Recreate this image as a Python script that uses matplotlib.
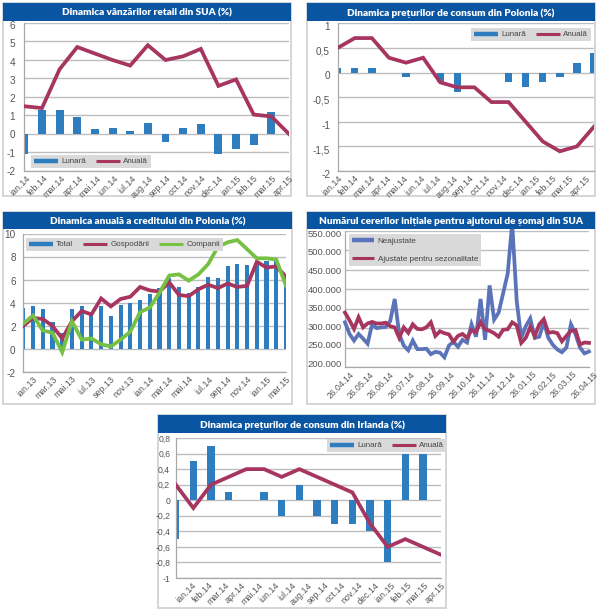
# -*- coding: utf-8 -*-
import numpy as np
import matplotlib
matplotlib.use("Agg")
import matplotlib.pyplot as plt
from matplotlib.lines import Line2D
from matplotlib.patches import Rectangle
from matplotlib.transforms import ScaledTranslation

plt.rcParams['font.family'] = ['Liberation Sans', 'DejaVu Sans']

W, H = 600, 613
BLUE = '#2e7ebf'
RED = '#a6355f'
GREEN = '#76c043'
SLATE = '#5b74b9'
BAND = '#0a55a2'
TXT = '#555555'

# retail SUA
luni14 = ['ian.14', 'feb.14', 'mar.14', 'apr.14', 'mai.14', 'iun.14', 'iul.14', 'aug.14',
          'sep.14', 'oct.14', 'nov.14', 'dec.14', 'ian.15', 'feb.15', 'mar.15', 'apr.15']
retail_lunar = [-1.1, 1.3, 1.3, 0.9, 0.25, 0.3, 0.15, 0.6, -0.45, 0.35, 0.55, -1.1, -0.8, -0.6, 1.2, 0.0]
retail_anual = [1.5, 1.4, 3.5, 4.7, 4.35, 4.0, 3.7, 4.8, 4.0, 4.2, 4.6, 2.6, 2.95, 1.05, 0.95, 0.0]

# preturi Polonia
pl_lunar = [0.1, 0.1, 0.1, 0, -0.1, 0, -0.2, -0.4, 0, 0, -0.2, -0.3, -0.2, -0.1, 0.2, 0.4]
pl_anual = [0.5, 0.7, 0.7, 0.3, 0.2, 0.3, -0.2, -0.3, -0.3, -0.6, -0.6, -1.0, -1.4, -1.6, -1.5, -1.1]

# credit Polonia
luni13 = ['ian.13', 'mar.13', 'mai.13', 'iul.13', 'sep.13', 'nov.13', 'ian.14',
          'mar.14', 'mai.14', 'iul.14', 'sep.14', 'nov.14', 'ian.15', 'mar.15']
credit_total = [3.6, 3.7, 3.5, 2.3, 1.4, 3.5, 3.7, 3.2, 3.7, 2.9, 3.8, 4.0, 4.25, 4.75,
                5.3, 6.2, 5.4, 4.9, 5.4, 6.3, 6.2, 7.2, 7.4, 7.3, 7.6, 7.7, 7.7, 6.4]
credit_gosp = [2.0, 2.7, 2.6, 2.0, 0.9, 2.4, 3.3, 3.0, 4.4, 3.7, 4.35, 4.55, 5.4, 5.1,
               5.0, 5.8, 4.7, 4.6, 5.2, 5.6, 5.3, 5.7, 5.4, 5.5, 7.6, 7.1, 7.2, 6.3]
credit_comp = [2.2, 2.9, 1.6, 1.4, -0.3, 2.4, 0.8, 0.9, 0.4, 0.2, 0.8, 1.5, 3.2, 3.6,
               4.9, 6.4, 6.5, 5.95, 6.5, 7.4, 8.9, 9.3, 9.5, 8.7, 7.9, 7.9, 7.8, 5.5]

# somaj SUA (mii)
date_somaj = ['26.04.14', '26.05.14', '26.06.14', '26.07.14', '26.08.14', '26.09.14', '26.10.14',
              '26.11.14', '26.12.14', '26.01.15', '26.02.15', '26.03.15', '26.04.15']
neajustate = [315, 285, 268, 285, 273, 260, 310, 300, 302, 303, 318, 375, 285, 255, 243, 268, 246,
              246, 247, 233, 239, 237, 225, 255, 265, 252, 270, 263, 310, 278, 375, 270, 410, 322,
              340, 390, 440, 570, 370, 275, 305, 325, 275, 278, 315, 275, 257, 245, 238, 250, 310,
              285, 250, 235, 240]
ajustate = [340, 320, 298, 328, 302, 312, 316, 312, 312, 314, 305, 302, 275, 302, 288, 310, 298,
            297, 302, 315, 280, 292, 287, 284, 265, 280, 285, 275, 295, 290, 315, 297, 293, 287,
            278, 296, 297, 315, 307, 262, 275, 303, 280, 310, 323, 288, 290, 287, 266, 280, 293,
            295, 258, 263, 262]

# preturi Irlanda
ie_lunar = [-0.5, 0.5, 0.7, 0.1, 0, 0.1, -0.2, 0.2, -0.2, -0.3, -0.3, -0.4, -0.8, 0.6, 0.6, 0]
ie_anual = [0.2, -0.1, 0.2, 0.3, 0.4, 0.4, 0.3, 0.4, 0.3, 0.2, 0.1, -0.3, -0.6, -0.5, -0.6, -0.7]

fig = plt.figure(figsize=(W / 100, H / 100), dpi=100, facecolor='white')


def panel(frame, band_bottom, title, box, title_size=7.2):
    # frame = (left, top, right, bottom), all in pixels of the picture
    l, t, r, b = frame
    fig.add_artist(Rectangle((l / W, 1 - b / H), (r - l) / W, (b - t) / H, transform=fig.transFigure,
                             fc='white', ec='#c9d0d6', lw=1.2, zorder=-2))
    fig.add_artist(Rectangle((l / W, 1 - band_bottom / H), (r - l) / W, (band_bottom - t) / H,
                             transform=fig.transFigure, fc=BAND, ec='none', zorder=-1))
    fig.text((l + r) / 2 / W, 1 - (t + band_bottom) / 2 / H, title, color='white', fontsize=title_size,
             fontweight='heavy', ha='center', va='center_baseline', family=['Lato', 'Liberation Sans'])
    x0, y0, x1, y1 = box
    ax = fig.add_axes([x0 / W, 1 - y1 / H, (x1 - x0) / W, (y1 - y0) / H])
    ax.patch.set_alpha(0)
    for s in ['top', 'right']:
        ax.spines[s].set_visible(False)
    for s in ['left', 'bottom']:
        ax.spines[s].set_color('#a8a8a8')
        ax.spines[s].set_linewidth(0.9)
    ax.set_axisbelow(True)
    ax.grid(axis='y', color='#bdbdbd', lw=1.0)
    return ax


def ticks(ax, yvals, ylabels, xpos, xlabels, ypad, dy=(0, 0), dx=0, ysize=7.2, xsize=6.4):
    ax.set_yticks(yvals, ylabels)
    ax.set_xticks(xpos, xlabels)
    ax.tick_params(axis='y', length=0, pad=ypad, labelsize=ysize, labelcolor=TXT)
    ax.tick_params(axis='x', length=0, pad=2, labelsize=xsize, labelcolor=TXT)
    for lab in ax.get_xticklabels():
        lab.set_rotation(45)
        lab.set_ha('right')
        lab.set_va('top')
        lab.set_rotation_mode('anchor')
        if dx:
            lab.set_transform(lab.get_transform() + ScaledTranslation(dx / 100, 0, fig.dpi_scale_trans))
    # the y labels are not quite level with the grid in the original
    shift = np.linspace(dy[0], dy[1], len(yvals))
    order = np.argsort(yvals)[::-1]
    labs = ax.get_yticklabels()
    for k, i in enumerate(order):
        labs[i].set_transform(labs[i].get_transform() + ScaledTranslation(0, -shift[k] / 100, fig.dpi_scale_trans))


def legend(ax, handles, labels, x, y, ncols=2, size=5.8, borderpad=0.35, handlelength=3.0,
           handletextpad=0.4, columnspacing=1.2, **kw):
    leg = ax.legend(handles, labels, loc='upper left', bbox_to_anchor=(x / W, 1 - y / H),
                    bbox_transform=fig.transFigure, ncols=ncols, frameon=True, facecolor='#d9d9d9',
                    edgecolor='none', fancybox=False, framealpha=1, borderaxespad=0, fontsize=size,
                    labelcolor='#444444', borderpad=borderpad, handlelength=handlelength,
                    handletextpad=handletextpad, columnspacing=columnspacing, **kw)
    leg.set_zorder(5)
    return leg


bar_h = Line2D([], [], color=BLUE, lw=3.2, solid_capstyle='butt')
red_h = Line2D([], [], color=RED, lw=2.2, solid_capstyle='butt')
green_h = Line2D([], [], color=GREEN, lw=2.2, solid_capstyle='butt')
slate_h = Line2D([], [], color=SLATE, lw=3.2, solid_capstyle='butt')

# 1
ax = panel((3, 3, 291, 196), 21, 'Dinamica vânzărilor retail din SUA (%)', (24.3, 23, 289, 171))
x = np.arange(16)
ax.bar(x, retail_lunar, 0.45, color=BLUE, zorder=2)
ax.plot(x, retail_anual, color=RED, lw=2.7, zorder=3, solid_joinstyle='miter')
ax.set_xlim(0, 15)
ax.set_ylim(-2, 6)
ticks(ax, list(range(-2, 7)), [str(v) for v in range(-2, 7)], np.linspace(0.1, 15, 16), luni14, 6.5, dy=(2, 0))
legend(ax, [bar_h, red_h], ['Lunară', 'Anuală'], 31, 155)

# 2
ax = panel((307, 3, 595, 196), 21, 'Dinamica prețurilor de consum din Polonia (%)', (337.7, 23.3, 594, 171))
ax.bar(x, pl_lunar, 0.43, color=BLUE, zorder=2)
ax.plot(x, pl_anual, color=RED, lw=2.7, zorder=3, solid_joinstyle='miter')
ax.set_xlim(0, 15)
ax.set_ylim(-2, 1)
yv = [-2, -1.5, -1, -0.5, 0, 0.5, 1]
ticks(ax, yv, ['-2', '-1,5', '-1', '-0,5', '0', '0,5', '1'], np.linspace(0, 14.5, 16), luni14, 5.5, dy=(2.3, 3.3))
legend(ax, [bar_h, red_h], ['Lunară', 'Anuală'], 471, 28)

# 3
ax = panel((3, 212, 292, 404), 229, 'Dinamica anuală a creditului din Polonia (%)', (23.3, 234.3, 286, 371.7))
x = np.arange(28)
ax.bar(x, credit_total, 0.42, color=BLUE, zorder=2)
ax.plot(x, credit_gosp, color=RED, lw=2.7, zorder=3, solid_joinstyle='miter')
ax.plot(x, credit_comp, color=GREEN, lw=2.7, zorder=4, solid_joinstyle='miter')
ax.set_xlim(0, 27)
ax.set_ylim(-2, 10)
yv = list(range(-2, 11, 2))
ticks(ax, yv, [str(v) for v in yv], np.linspace(1, 27, 14), luni13, 5.5, dy=(0, 1.5))
legend(ax, [bar_h, red_h, green_h], ['Total', 'Gospodării', 'Companii'], 26, 238, ncols=3)

# 4
ax = panel((307, 212, 595, 404), 229, 'Numărul cererilor inițiale pentru ajutorul de șomaj din SUA', (345, 231, 589, 367))
x = np.arange(len(neajustate))
ax.plot(x, neajustate, color=SLATE, lw=2.7, zorder=3, solid_joinstyle='miter')
ax.plot(x, ajustate, color=RED, lw=2.7, zorder=4, solid_joinstyle='miter')
ax.set_xlim(0, 54)
ax.set_ylim(200, 550)
# the peak goes above 550.000 and stops at the blue band
clip = Rectangle((340 / W, 1 - 375 / H), 255 / W, 146 / H, transform=fig.transFigure)
for line in ax.get_lines():
    line.set_clip_path(clip)
yv = list(range(200, 551, 50))
ticks(ax, yv, ['%d.000' % v for v in yv], np.linspace(0, 54, 13), date_somaj, 2.5, dy=(2.3, -3.7), dx=4, ysize=6.8, xsize=6.2)
legend(ax, [slate_h, red_h], ['Neajustate', 'Ajustate pentru sezonalitate'], 349, 234, ncols=1, size=5.9,
       borderpad=0.4, handlelength=2.7, labelspacing=1.2)

# 5
ax = panel((158, 415, 446, 608), 433, 'Dinamica prețurilor de consum din Irlanda (%)', (175.7, 438, 440.7, 578))
x = np.arange(16)
ax.bar(x, ie_lunar, 0.42, color=BLUE, zorder=2)
ax.plot(x, ie_anual, color=RED, lw=2.7, zorder=3, solid_joinstyle='miter')
ax.set_xlim(0, 15)
ax.set_ylim(-1, 0.8)
yv = [-1, -0.8, -0.6, -0.4, -0.2, 0, 0.2, 0.4, 0.6, 0.8]
ticks(ax, yv, ['-1', '-0,8', '-0,6', '-0,4', '-0,2', '0', '0,2', '0,4', '0,6', '0,8'], np.linspace(0.9, 15, 16), luni14, 4, ysize=6.2)
legend(ax, [bar_h, red_h], ['Lunară', 'Anuală'], 327, 439)

fig.savefig('out.png', dpi=100)
